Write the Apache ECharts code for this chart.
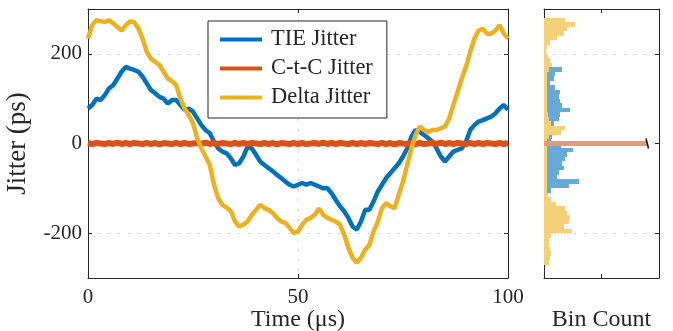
<!DOCTYPE html>
<html>
<head>
<meta charset="utf-8">
<script src="https://cdn.jsdelivr.net/npm/echarts@6.0.0/dist/echarts.min.js"></script>
<style>
  html, body { margin: 0; padding: 0; background: #fff; }
  #chart { width: 673px; height: 331px; }
</style>
</head>
<body>
<div id="chart"></div>
<script>
// time axis of the sweep, 1 µs per sample
const timeUs = Array.from({ length: 101 }, (_, i) => i);

// jitter traces (ps)
const tieJitter = [
  78, 86, 100, 97, 108, 123, 130, 145, 160, 171,
  167, 164, 160, 149, 134, 119, 112, 104, 100, 89,
  97, 97, 86, 75, 78, 71, 56, 41, 30, 23,
  4, -11, -18, -22, -33, -48, -44, -29, -7, -11,
  -25, -40, -48, -55, -62, -70, -77, -85, -92, -96,
  -92, -88, -92, -88, -92, -96, -100, -100, -111, -126,
  -140, -151, -166, -185, -192, -174, -148, -148, -129, -107,
  -92, -77, -66, -55, -44, -29, -11, 15, 30, 26,
  19, 12, 4, -11, -29, -40, -29, -18, -14, -11,
  4, 30, 41, 49, 52, 56, 60, 67, 78, 86,
  75
];
const ctcJitter = [
  1, -1, 1, 0, -1, 1, -1, 2, -1, 1,
  -1, 1, 0, -1, 1, -1, 1, -2, 1, 0,
  -1, 1, -1, 1, -1, 0, 1, -1, 2, -1,
  1, -1, 1, 0, -1, 1, -1, 1, -1, 1,
  0, -1, 1, -1, 1, -2, 1, 0, -1, 1,
  -1, 1, -1, 0, 1, -1, 2, -1, 1, -1,
  1, 0, -1, 1, -1, 1, -1, 1, 0, -1,
  1, -1, 1, -2, 1, 0, -1, 1, -1, 1,
  -1, 0, 1, -1, 2, -1, 1, -1, 1, 0,
  -1, 1, -1, 1, -1, 1, 0, -1, 1, -1,
  1
];
const deltaJitter = [
  234, 264, 275, 273, 271, 275, 268, 260, 252, 264,
  272, 271, 256, 234, 204, 189, 182, 175, 160, 145,
  139, 130, 100, 78, 63, 45, 12, -11, -29, -48,
  -92, -122, -137, -143, -151, -174, -185, -181, -174, -159,
  -148, -137, -144, -148, -155, -166, -174, -177, -188, -200,
  -196, -181, -170, -166, -159, -145, -159, -166, -170, -174,
  -181, -203, -233, -255, -266, -255, -237, -226, -196, -174,
  -144, -133, -140, -144, -114, -85, -48, -11, 19, 38,
  30, 26, 30, 30, 34, 38, 56, 86, 115, 145,
  171, 204, 234, 252, 256, 245, 245, 252, 264, 245,
  234
];

// histogram (bin centres in ps, top to bottom) and bin counts
const binCenters = [
  295, 285, 275, 265, 255, 245, 235, 225, 215, 205,
  195, 185, 175, 165, 155, 145, 135, 125, 115, 105,
  95, 85, 75, 65, 55, 45, 35, 25, 15, 5,
  -5, -15, -25, -35, -45, -55, -65, -75, -85, -95,
  -105, -115, -125, -135, -145, -155, -165, -175, -185, -195,
  -205, -215, -225, -235, -245, -255, -265, -275, -285, -295
];
const deltaCounts = [
  0, 0, 180, 270, 200, 170, 115, 55, 28, 20,
  32, 55, 70, 40, 30, 28, 25, 30, 28, 25,
  30, 28, 30, 35, 40, 60, 185, 150, 40, 30,
  25, 28, 30, 25, 28, 30, 25, 28, 30, 25,
  30, 35, 60, 100, 185, 200, 230, 215, 170, 240,
  60, 40, 45, 55, 60, 55, 40, 0, 0, 0
];
const tieCounts = [
  0, 0, 0, 0, 0, 0, 0, 0, 0, 0,
  0, 0, 0, 156, 98, 84, 55, 98, 142, 127,
  142, 156, 229, 142, 127, 84, 55, 26, 69, 60,
  150, 250, 200, 180, 160, 170, 130, 110, 300, 220,
  60, 20, 0, 0, 0, 0, 0, 0, 0, 0,
  0, 0, 0, 0, 0, 0, 0, 0, 0, 0
];
const ctcBinCenters = [0];
const ctcCounts = [895];

const yTicks = [-200, 0, 200];
const seriesNames = ['TIE Jitter', 'C-t-C Jitter', 'Delta Jitter'];
const lineColors = ['#0072BD', '#D95319', '#EDB120'];
const histColors = ['#66AAD7', '#E89875', '#F4D079'];

const FONT = 'Liberation Serif';
const INK = '#262626';
const gridLine = { show: true, lineStyle: { color: '#d4d4d4', type: [2, 8], width: 1 } };

const zip = (xs, ys) => xs.map((x, i) => [x, ys[i]]);

// horizontal histogram bar: count along x, bin centre on y
// edges snapped to whole pixels so neighbouring bins don't leave seams
function histRender(binH, withCap) {
  return (params, api) => {
    const c = api.value(0);
    const v = api.value(1);
    const x0 = Math.round(api.coord([0, v])[0]);
    const x1 = Math.round(api.coord([c, v])[0]);
    const yTop = Math.round(api.coord([0, v + binH / 2])[1]);
    const yBot = Math.round(api.coord([0, v - binH / 2])[1]);
    const yMid = api.coord([0, v])[1];
    const rect = {
      type: 'rect',
      shape: { x: x0, y: yTop, width: x1 - x0, height: yBot - yTop },
      style: { fill: api.visual('color') }
    };
    if (!withCap) return rect;
    return {
      type: 'group',
      children: [rect, {
        type: 'line',
        shape: { x1: x1 - 1, y1: yMid - 5, x2: x1 + 1.5, y2: yMid + 5 },
        style: { stroke: '#111', lineWidth: 1.5 }
      }]
    };
  };
}

const chart = echarts.init(document.getElementById('chart'), null, { renderer: 'canvas' });

const boxAxis = (extra) => Object.assign({
  type: 'value',
  axisLine: { show: true, onZero: false, lineStyle: { color: INK, width: 1 } },
  axisTick: { show: true, inside: true, length: 4, lineStyle: { color: INK } },
  axisLabel: { show: false },
  splitLine: { show: false },
  nameMoveOverlap: false
}, extra);

chart.setOption({
  animation: false,
  backgroundColor: '#fff',
  textStyle: { fontFamily: FONT, color: INK },
  grid: [
    { left: 88, right: 165, top: 9, bottom: 53, outerBoundsMode: 'none', containLabel: false },
    { left: 544, right: 14, top: 9, bottom: 53, outerBoundsMode: 'none', containLabel: false }
  ],
  legend: {
    data: seriesNames,
    orient: 'vertical',
    left: 208,
    top: 21,
    padding: [7, 14, 9, 12],
    itemWidth: 42,
    itemHeight: 4,
    itemGap: 6,
    icon: 'rect',
    backgroundColor: '#fff',
    borderColor: INK,
    borderWidth: 1,
    borderRadius: 0,
    textStyle: { fontFamily: FONT, fontSize: 22.5, color: INK, lineHeight: 20, padding: [0, 0, 0, 4] }
  },
  xAxis: [
    boxAxis({
      gridIndex: 0, position: 'bottom', min: 0, max: 100, interval: 50,
      axisLabel: { show: true, fontFamily: FONT, fontSize: 21, color: INK, margin: 9 },
      splitLine: gridLine,
      name: 'Time (μs)', nameLocation: 'middle', nameGap: 30,
      nameTextStyle: { fontFamily: FONT, fontSize: 24, color: INK }
    }),
    boxAxis({ gridIndex: 0, position: 'top', min: 0, max: 100, interval: 50 }),
    boxAxis({
      gridIndex: 1, position: 'bottom', min: 0, max: 1000, interval: 500,
      name: 'Bin Count', nameLocation: 'middle', nameGap: 30,
      nameTextStyle: { fontFamily: FONT, fontSize: 24, color: INK }
    }),
    boxAxis({ gridIndex: 1, position: 'top', min: 0, max: 1000, interval: 500 })
  ],
  yAxis: [
    boxAxis({
      gridIndex: 0, position: 'left', min: -300, max: 300,
      axisTick: { show: true, inside: true, length: 4, customValues: yTicks, lineStyle: { color: INK } },
      axisLabel: { show: true, customValues: yTicks, fontFamily: FONT, fontSize: 21, color: INK, margin: 6 },
      splitLine: gridLine,
      name: 'Jitter (ps)', nameLocation: 'middle', nameGap: 57,
      nameTextStyle: { fontFamily: FONT, fontSize: 27, color: INK }
    }),
    boxAxis({
      gridIndex: 0, position: 'right', min: -300, max: 300,
      axisTick: { show: true, inside: true, length: 4, customValues: yTicks, lineStyle: { color: INK } }
    }),
    boxAxis({
      gridIndex: 1, position: 'left', min: -300, max: 300,
      axisTick: { show: true, inside: true, length: 4, customValues: yTicks, lineStyle: { color: INK } },
      splitLine: gridLine
    }),
    boxAxis({
      gridIndex: 1, position: 'right', min: -300, max: 300,
      axisTick: { show: true, inside: true, length: 4, customValues: yTicks, lineStyle: { color: INK } }
    })
  ],
  series: [
    {
      name: seriesNames[0], type: 'line', xAxisIndex: 0, yAxisIndex: 0,
      showSymbol: false, color: lineColors[0],
      lineStyle: { width: 4.5, color: lineColors[0] },
      data: zip(timeUs, tieJitter)
    },
    {
      name: seriesNames[1], type: 'line', xAxisIndex: 0, yAxisIndex: 0,
      showSymbol: false, color: lineColors[1],
      lineStyle: { width: 6, color: lineColors[1] },
      data: zip(timeUs, ctcJitter)
    },
    {
      name: seriesNames[2], type: 'line', xAxisIndex: 0, yAxisIndex: 0,
      showSymbol: false, color: lineColors[2],
      lineStyle: { width: 4.5, color: lineColors[2] },
      data: zip(timeUs, deltaJitter)
    },
    {
      name: 'TIE hist', type: 'custom', xAxisIndex: 2, yAxisIndex: 2,
      color: histColors[0], renderItem: histRender(10, false),
      encode: { x: 0, y: 1 },
      data: zip(tieCounts, binCenters)
    },
    {
      name: 'Delta hist', type: 'custom', xAxisIndex: 2, yAxisIndex: 2,
      color: histColors[2], renderItem: histRender(10, false),
      encode: { x: 0, y: 1 },
      data: zip(deltaCounts, binCenters)
    },
    {
      name: 'C-t-C hist', type: 'custom', xAxisIndex: 2, yAxisIndex: 2,
      color: histColors[1], renderItem: histRender(11, true),
      encode: { x: 0, y: 1 },
      data: zip(ctcCounts, ctcBinCenters)
    }
  ]
});
</script>
</body>
</html>
